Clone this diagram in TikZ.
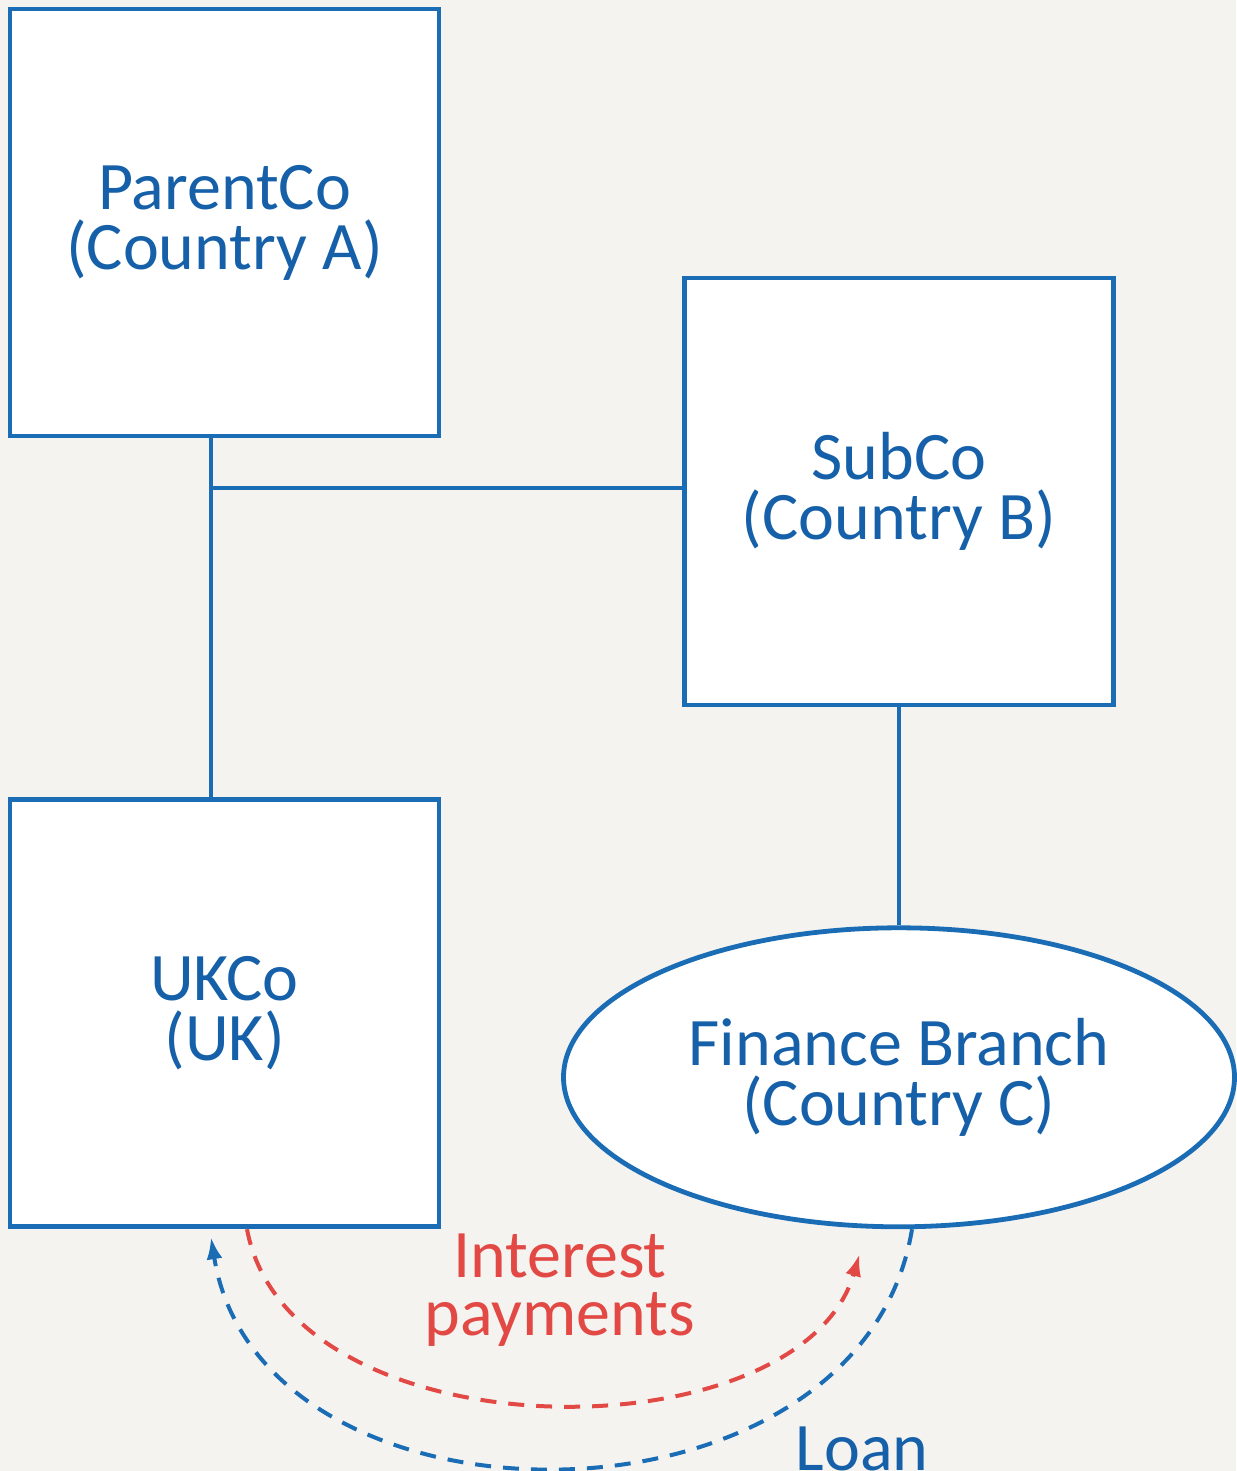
\documentclass[tikz,border=0pt]{standalone}
\usepackage{fontspec}
\setmainfont{Carlito}
\usepackage{tikz}
\usetikzlibrary{
  arrows.meta,
  positioning,
  shapes.geometric
}
\definecolor{bg}{RGB}{244,243,240}
\definecolor{entity}{RGB}{26,108,181}
\definecolor{entitytext}{RGB}{21,96,168}
\definecolor{flow}{RGB}{226,72,68}

\begin{document}
\begin{tikzpicture}[
  box/.style={rectangle,draw=entity,line width=2.4pt,fill=white,minimum width=214.5pt,minimum height=213.5pt,align=center,text=entitytext,font=\fontsize{34}{30}\selectfont},
  branch/.style={ellipse,draw=entity,line width=2.4pt,fill=white,minimum width=335.5pt,minimum height=149.5pt,inner sep=0pt,align=center,text=entitytext,font=\fontsize{34}{30}\selectfont},
  link/.style={draw=entity,line width=2pt},
  a/.style={-{Latex[length=11pt,width=8pt]},line width=2pt,dash pattern=on 8pt off 6pt},
  lbl/.style={align=center,font=\fontsize{34}{29}\selectfont,inner sep=0pt}
]
\useasboundingbox[fill=bg] (0,0) rectangle (618pt,-735.5pt);
\node[box] (pc) at (112.25pt,-111.25pt) {ParentCo\\(Country A)};
\node[box] (sub) at (449.5pt,-245.75pt) {SubCo\\(Country B)};
\node[box,below=179.5pt of pc] (uk) {UKCo\\(UK)};
\node[branch,below=109pt of sub] (fin) {Finance Branch\\(Country C)};
\coordinate (j) at ([xshift=-6.75pt]pc.south |- 0,-244pt);
\draw[link] ([xshift=-6.75pt]pc.south)--([xshift=-6.75pt]uk.north);
\draw[link] (j)--(j -| sub.west);
\draw[link] (sub.south)--(fin.north);
% loan out, interest back
\draw[a,entity] ([xshift=6.5pt]fin.south) .. controls (430pt,-772.5pt) and (130pt,-772.5pt) .. ([shift={(-6.75pt,-4pt)}]uk.south);
\draw[a,flow] ([xshift=11.25pt]uk.south) .. controls (145pt,-729pt) and (400pt,-729pt) .. ([shift={(-19.75pt,-12.5pt)}]fin.south);
\node[lbl,text=flow] (int) at (280pt,-645pt) {Interest\\payments};
\node[lbl,text=entitytext,anchor=base] (loan) at (431pt,-735pt) {Loan};
\end{tikzpicture}
\end{document}
